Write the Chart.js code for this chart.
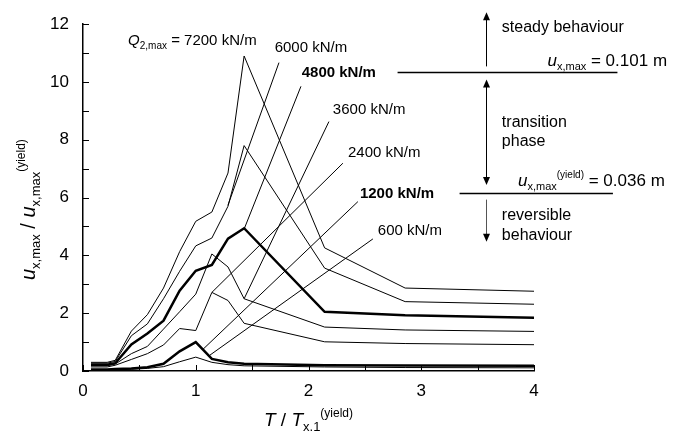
<!DOCTYPE html>
<html>
<head>
<meta charset="utf-8">
<script src="https://cdn.jsdelivr.net/npm/chart.js@4.4.1/dist/chart.umd.min.js"></script>
<style>
  html, body { margin: 0; padding: 0; background: #fff; }
</style>
</head>
<body>
<canvas id="chart" width="681" height="434"></canvas>
<script>
// T / T_x.1(yield)
const tRatio = [0.071, 0.214, 0.286, 0.429, 0.571, 0.714, 0.857, 1.0, 1.143, 1.286, 1.429, 2.143, 2.857, 4.0];

// u_x,max / u_x,max(yield) for each Q_2,max
const q7200 = [0.30, 0.30, 0.37, 1.38, 1.95, 2.87, 4.13, 5.18, 5.50, 6.85, 10.90, 4.26, 2.87, 2.76];
const q6000 = [0.27, 0.27, 0.33, 1.22, 1.63, 2.50, 3.45, 4.33, 4.60, 5.70, 7.80, 3.56, 2.40, 2.31];
const q4800 = [0.22, 0.22, 0.27, 0.92, 1.30, 1.74, 2.78, 3.47, 3.67, 4.58, 4.94, 2.05, 1.93, 1.84];
const q3600 = [0.18, 0.18, 0.24, 0.60, 0.85, 1.45, 2.05, 2.66, 4.05, 3.60, 2.50, 1.52, 1.42, 1.37];
const q2400 = [0.14, 0.14, 0.20, 0.40, 0.60, 0.90, 1.47, 1.40, 2.72, 2.44, 1.65, 1.01, 0.95, 0.91];
const q1200 = [0.05, 0.05, 0.07, 0.09, 0.13, 0.25, 0.68, 1.00, 0.42, 0.30, 0.25, 0.20, 0.19, 0.18];
const q600  = [0.02, 0.02, 0.04, 0.06, 0.09, 0.15, 0.32, 0.48, 0.30, 0.22, 0.18, 0.14, 0.12, 0.11];

const seriesNames = ['7200 kN/m', '6000 kN/m', '4800 kN/m', '3600 kN/m', '2400 kN/m', '1200 kN/m', '600 kN/m'];
const seriesValues = [q7200, q6000, q4800, q3600, q2400, q1200, q600];
const boldSeries = ['4800 kN/m', '1200 kN/m'];

const FONT = "'Liberation Sans', Arial, sans-serif";

// curve labels: text position (value space) and leader line (value space)
const curveLabels = [
  { name: '6000 kN/m', at: [1.70, 11.22], leader: [[1.738, 10.67], [1.285, 5.73]] },
  { name: '4800 kN/m', at: [1.94, 10.36], leader: [[1.933, 9.85], [1.429, 4.91]] },
  { name: '3600 kN/m', at: [2.216, 9.10], leader: [[2.181, 8.63], [1.429, 2.50]] },
  { name: '2400 kN/m', at: [2.35, 7.60], leader: [[2.305, 7.19], [1.143, 2.72]] },
  { name: '1200 kN/m', at: [2.456, 6.17], leader: [[2.438, 5.86], [1.064, 0.75]] },
  { name: '600 kN/m', at: [2.615, 4.91], leader: [[2.571, 4.57], [1.126, 0.55]] }
];

function drawRich(ctx, parts, x, y, align) {
  let total = 0;
  parts.forEach(p => {
    ctx.font = (p.italic ? 'italic ' : '') + (p.bold ? 'bold ' : '') + p.size + 'px ' + FONT;
    p.w = ctx.measureText(p.t).width;
    total += p.w;
  });
  let cx = x;
  if (align === 'right') cx = x - total;
  if (align === 'center') cx = x - total / 2;
  ctx.textAlign = 'left';
  ctx.textBaseline = 'alphabetic';
  parts.forEach(p => {
    ctx.font = (p.italic ? 'italic ' : '') + (p.bold ? 'bold ' : '') + p.size + 'px ' + FONT;
    ctx.fillText(p.t, cx, y + (p.dy || 0));
    cx += p.w;
  });
}

function arrowHead(ctx, x, y, dir) {
  ctx.beginPath();
  ctx.moveTo(x, y);
  ctx.lineTo(x - 3.5, y - dir * 8);
  ctx.lineTo(x + 3.5, y - dir * 8);
  ctx.closePath();
  ctx.fill();
}

const annotations = {
  id: 'annotations',
  afterDatasetsDraw(chart) {
    const ctx = chart.ctx;
    const xs = chart.scales.x, ys = chart.scales.y;
    const X = v => xs.getPixelForValue(v);
    const Y = v => ys.getPixelForValue(v);
    ctx.save();
    ctx.fillStyle = '#000';
    ctx.strokeStyle = '#000';

    // inward tick marks
    ctx.lineWidth = 1;
    ctx.beginPath();
    ys.ticks.forEach(t => {
      const py = Math.round(Y(t.value)) + 0.5;
      ctx.moveTo(xs.left, py); ctx.lineTo(xs.left + 6, py);
    });
    xs.ticks.forEach(t => {
      const px = Math.round(X(t.value)) + 0.5;
      ctx.moveTo(px, ys.bottom); ctx.lineTo(px, ys.bottom - 6);
    });
    ctx.stroke();

    // leader lines
    ctx.lineWidth = 1;
    curveLabels.forEach(l => {
      ctx.beginPath();
      ctx.moveTo(X(l.leader[0][0]), Y(l.leader[0][1]));
      ctx.lineTo(X(l.leader[1][0]), Y(l.leader[1][1]));
      ctx.stroke();
    });

    // curve labels
    drawRich(ctx, [
      { t: 'Q', size: 15, italic: true },
      { t: '2,max', size: 10, dy: 4 },
      { t: ' = 7200 kN/m', size: 15 }
    ], X(0.40), Y(11.46) + 5.5, 'left');
    curveLabels.forEach(l => {
      drawRich(ctx, [{ t: l.name, size: 15, bold: boldSeries.includes(l.name) }],
        X(l.at[0]), Y(l.at[1]) + 5.5, 'left');
    });

    // behaviour zones on the right
    ctx.lineWidth = 1.5;
    ctx.beginPath();
    ctx.moveTo(X(2.79), Y(10.33)); ctx.lineTo(X(4.74), Y(10.33));
    ctx.moveTo(X(3.34), Y(6.14)); ctx.lineTo(X(4.70), Y(6.14));
    ctx.stroke();

    const ax = Math.round(X(3.57)) + 0.5;
    ctx.lineWidth = 1;
    ctx.beginPath();
    ctx.moveTo(ax, Y(10.54)); ctx.lineTo(ax, Y(12.41) + 4);
    ctx.moveTo(ax, Y(10.09) + 4); ctx.lineTo(ax, Y(6.44) - 4);
    ctx.stroke();
    arrowHead(ctx, ax, Y(12.41), -1);
    arrowHead(ctx, ax, Y(10.09), -1);
    arrowHead(ctx, ax, Y(6.44), 1);
    ctx.strokeStyle = '#555';
    ctx.beginPath();
    ctx.moveTo(ax, Y(5.93)); ctx.lineTo(ax, Y(4.47) - 4);
    ctx.stroke();
    arrowHead(ctx, ax, Y(4.47), 1);

    const tx = X(3.715);
    drawRich(ctx, [{ t: 'steady behaviour', size: 16 }], tx, Y(11.9) + 5, 'left');
    drawRich(ctx, [{ t: 'transition', size: 16 }], tx, Y(8.66) + 6, 'left');
    drawRich(ctx, [{ t: 'phase', size: 16 }], tx, Y(7.98) + 6, 'left');
    drawRich(ctx, [{ t: 'reversible', size: 16 }], tx, Y(5.42) + 6, 'left');
    drawRich(ctx, [{ t: 'behaviour', size: 16 }], tx, Y(4.74) + 6, 'left');
    drawRich(ctx, [
      { t: 'u', size: 17, italic: true },
      { t: 'x,max', size: 11, dy: 4 },
      { t: ' = 0.101 m', size: 17 }
    ], X(5.18), Y(10.77) + 6, 'right');
    drawRich(ctx, [
      { t: 'u', size: 17, italic: true },
      { t: 'x,max', size: 11, dy: 4 },
      { t: '(yield)', size: 10, dy: -8 },
      { t: ' = 0.036 m', size: 17 }
    ], X(5.16), Y(6.61) + 6, 'right');

    // axis titles
    drawRich(ctx, [
      { t: 'T', size: 19, italic: true },
      { t: ' / ', size: 19 },
      { t: 'T', size: 19, italic: true },
      { t: 'x.1', size: 13, dy: 5 },
      { t: '(yield)', size: 12, dy: -9 }
    ], (xs.left + xs.right) / 2, 426, 'center');

    ctx.translate(35, (ys.top + ys.bottom) / 2 + 12);
    ctx.rotate(-Math.PI / 2);
    drawRich(ctx, [
      { t: 'u', size: 20, italic: true },
      { t: 'x,max', size: 13, dy: 5 },
      { t: ' / ', size: 20 },
      { t: 'u', size: 20, italic: true },
      { t: 'x,max', size: 13, dy: 5 },
      { t: '(yield)', size: 12, dy: -10 }
    ], 0, 0, 'center');
    ctx.restore();
  }
};

const datasets = seriesNames.map((name, i) => ({
  label: name,
  data: tRatio.map((t, j) => ({ x: t, y: seriesValues[i][j] })),
  borderColor: '#000',
  backgroundColor: '#000',
  borderWidth: boldSeries.includes(name) ? 2.5 : 1,
  pointRadius: 0,
  tension: 0,
  fill: false
}));

new Chart(document.getElementById('chart'), {
  type: 'line',
  data: { datasets: datasets },
  options: {
    responsive: false,
    animation: false,
    layout: { padding: { left: 0, right: 147, top: 19, bottom: 0 } },
    plugins: { legend: { display: false }, tooltip: { enabled: false } },
    scales: {
      x: {
        type: 'linear',
        min: 0, max: 4,
        grid: { display: false, drawTicks: false },
        border: { display: true, color: '#000', width: 1.5 },
        ticks: {
          stepSize: 0.5,
          padding: 10,
          color: '#000',
          font: { family: FONT, size: 17 },
          callback: v => Number.isInteger(v) ? v : ''
        },
        afterFit: s => { s.height = 63; }
      },
      y: {
        min: 0, max: 12,
        grid: { display: false, drawTicks: false },
        border: { display: true, color: '#000', width: 1.5 },
        ticks: {
          stepSize: 1,
          padding: 14,
          color: '#000',
          font: { family: FONT, size: 17 },
          callback: v => v % 2 === 0 ? v : ''
        },
        afterFit: s => { s.width = 83; }
      }
    }
  },
  plugins: [annotations]
});
</script>
</body>
</html>
